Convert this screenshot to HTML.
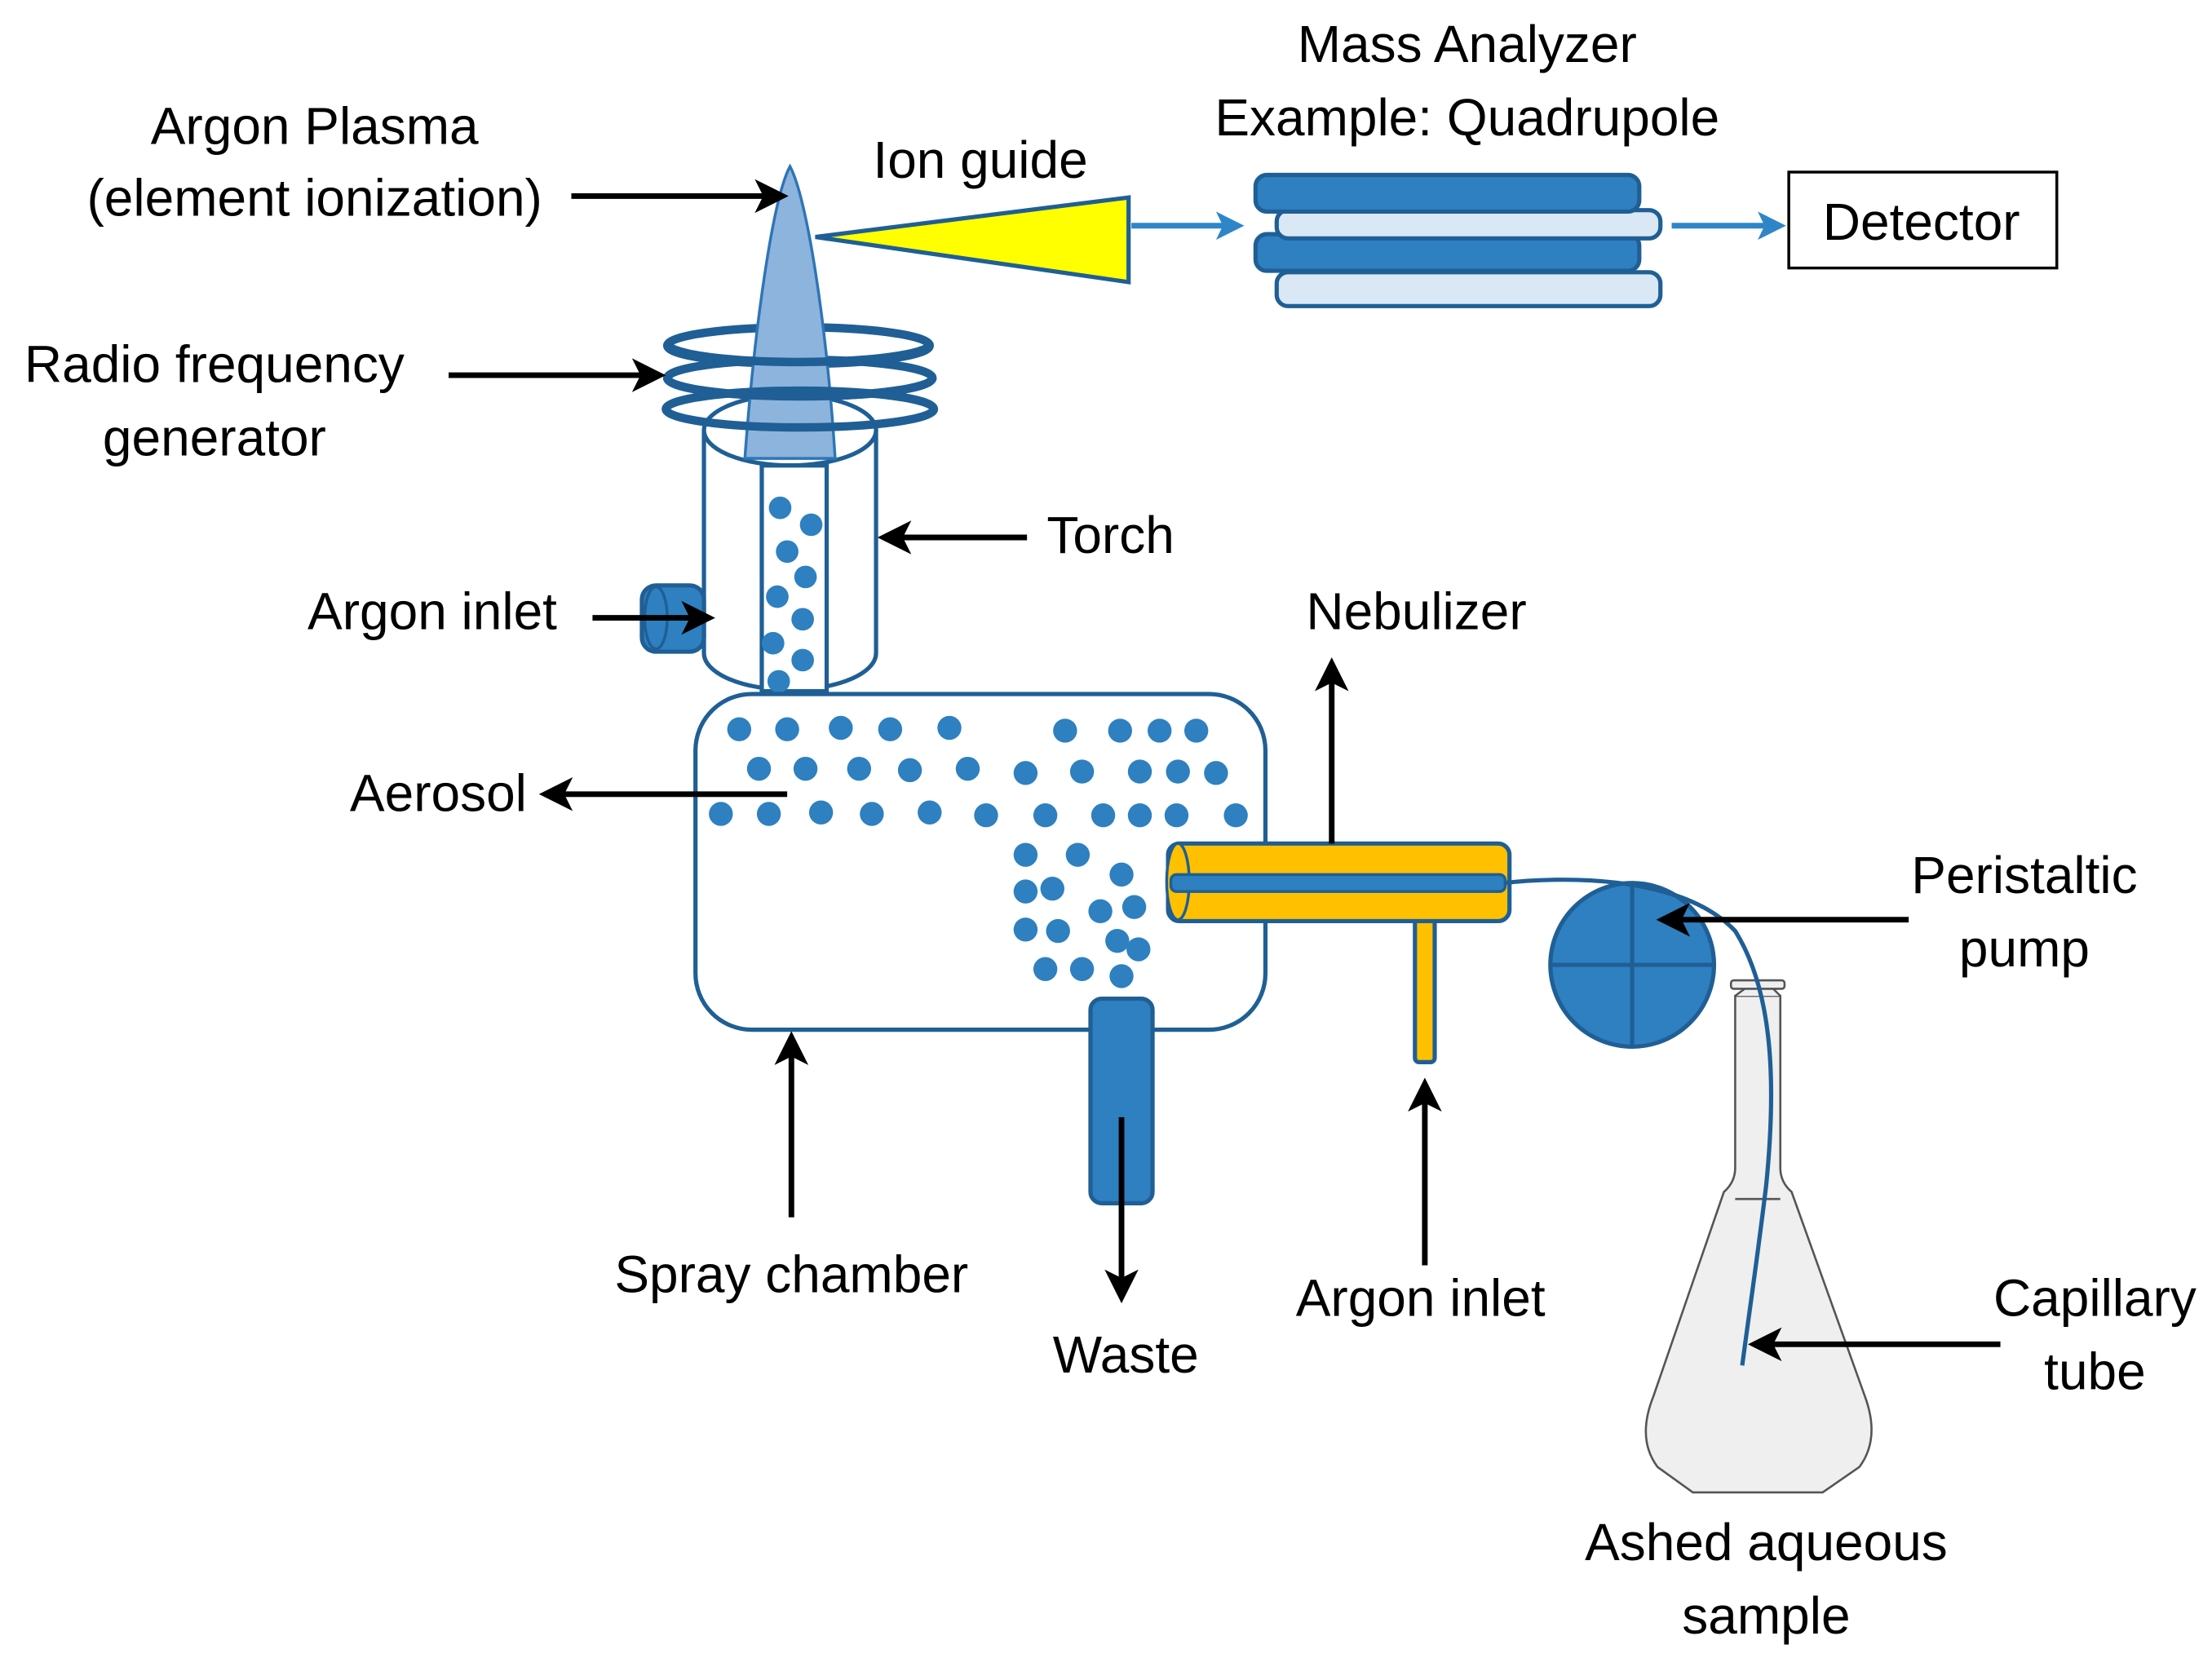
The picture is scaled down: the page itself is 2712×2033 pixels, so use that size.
<!DOCTYPE html>
<html><head><style>html,body{margin:0;padding:0;background:#fff}svg{display:block}</style></head>
<body>
<svg width="2712" height="2033" viewBox="0 0 1568 1175.4" preserveAspectRatio="none" xmlns="http://www.w3.org/2000/svg" font-family="Liberation Sans, sans-serif" font-size="37">
<defs>
<marker id="ah" markerWidth="6" markerHeight="6" refX="5" refY="3" orient="auto" markerUnits="strokeWidth"><path d="M0,0 L6,3 L0,6 L1.5,3z" fill="#000"/></marker>
<marker id="bh" markerWidth="5" markerHeight="5" refX="4" refY="2.5" orient="auto" markerUnits="strokeWidth"><path d="M0,0 L5,2.5 L0,5 L1.2,2.5z" fill="#2e86c9"/></marker>
</defs>
<rect x="1268" y="122" width="190" height="68" fill="#fff" stroke="#000" stroke-width="2"/>
<g fill="#000">
<text x="223" y="102" text-anchor="middle">Argon Plasma</text>
<text x="223" y="153" text-anchor="middle">(element ionization)</text>
<text x="695" y="126" text-anchor="middle">Ion guide</text>
<text x="1040" y="44" text-anchor="middle">Mass Analyzer</text>
<text x="1040" y="96" text-anchor="middle">Example: Quadrupole</text>
<text x="152" y="271" text-anchor="middle">Radio frequency</text>
<text x="152" y="323" text-anchor="middle">generator</text>
<text x="742" y="392">Torch</text>
<text x="218" y="446">Argon inlet</text>
<text x="1004" y="446" text-anchor="middle">Nebulizer</text>
<text x="248" y="575">Aerosol</text>
<text x="1435" y="633" text-anchor="middle">Peristaltic</text>
<text x="1435" y="685" text-anchor="middle">pump</text>
<text x="561" y="916" text-anchor="middle">Spray chamber</text>
<text x="798" y="973" text-anchor="middle">Waste</text>
<text x="1007" y="933" text-anchor="middle">Argon inlet</text>
<text x="1485" y="933" text-anchor="middle">Capillary</text>
<text x="1485" y="985" text-anchor="middle">tube</text>
<text x="1252" y="1106" text-anchor="middle">Ashed aqueous</text>
<text x="1252" y="1158" text-anchor="middle">sample</text>
<text x="1362" y="170" text-anchor="middle">Detector</text>
</g>
<!-- quadrupole -->
<g stroke="#1f5f95" stroke-width="3">
<rect x="905" y="193" width="272" height="24" rx="8" fill="#dae7f4"/>
<rect x="890" y="166" width="272" height="26" rx="8" fill="#2e80c0"/>
<rect x="905" y="149" width="272" height="20" rx="8" fill="#dae7f4"/>
<rect x="890" y="124" width="272" height="26" rx="8" fill="#2e80c0"/>
</g>
<line x1="802" y1="160" x2="878" y2="160" stroke="#2e86c9" stroke-width="4" marker-end="url(#bh)"/>
<line x1="1185" y1="160" x2="1262" y2="160" stroke="#2e86c9" stroke-width="4" marker-end="url(#bh)"/>
<polygon points="578,168 800,140 800,200" fill="#ffff00" stroke="#1f5f95" stroke-width="3"/>
<!-- torch -->
<path d="M499,305 L499,463 A61,26 0 0 0 621,463 L621,305" fill="#fff" stroke="#1f5f95" stroke-width="3"/>
<ellipse cx="560" cy="305" rx="61" ry="25" fill="#fff" stroke="#1f5f95" stroke-width="3"/>
<rect x="540" y="330" width="46" height="160" fill="#fff" stroke="#1f5f95" stroke-width="3"/>
<g fill="#2e80c0">
<circle cx="553" cy="360" r="8"/><circle cx="575" cy="372" r="8"/><circle cx="558" cy="391" r="8"/><circle cx="571" cy="409" r="8"/><circle cx="551" cy="423" r="8"/><circle cx="569" cy="439" r="8"/><circle cx="548" cy="456" r="8"/><circle cx="569" cy="468" r="8"/><circle cx="552" cy="483" r="8"/>
</g>
<rect x="455" y="415" width="44" height="47" rx="10" fill="#2e80c0" stroke="#1f5f95" stroke-width="3"/>
<ellipse cx="465" cy="438" rx="8" ry="22" fill="#2e80c0" stroke="#1f5f95" stroke-width="2"/>
<!-- coils & flame -->
<g fill="none" stroke="#1f5f95" stroke-width="6">
<ellipse cx="566" cy="245" rx="93" ry="13"/>
<ellipse cx="567" cy="268" rx="94" ry="13"/>
</g>
<path d="M528,325 C535,230 548,140 560,118 C572,140 586,230 592,325 Z" fill="#8db4dd" stroke="#2e75b6" stroke-width="2"/>
<g fill="none" stroke="#1f5f95" stroke-width="6">
<path d="M474,245 A93,13 0 0 0 659,245"/>
<path d="M473,268 A94,13 0 0 0 661,268"/>
<ellipse cx="567" cy="290" rx="95" ry="13"/>
</g>
<!-- spray chamber -->
<rect x="493" y="492" width="404" height="238" rx="40" fill="#fff" stroke="#1f5f95" stroke-width="3"/>
<g fill="#2e80c0">
<circle cx="524" cy="517" r="8.5"/><circle cx="558" cy="517" r="8.5"/><circle cx="596" cy="516" r="8.5"/><circle cx="631" cy="517" r="8.5"/><circle cx="673" cy="516" r="8.5"/><circle cx="755" cy="518" r="8.5"/><circle cx="794" cy="518" r="8.5"/><circle cx="822" cy="518" r="8.5"/><circle cx="848" cy="518" r="8.5"/>
<circle cx="538" cy="545" r="8.5"/><circle cx="571" cy="545" r="8.5"/><circle cx="609" cy="545" r="8.5"/><circle cx="645" cy="546" r="8.5"/><circle cx="686" cy="545" r="8.5"/><circle cx="727" cy="548" r="8.5"/><circle cx="767" cy="547" r="8.5"/><circle cx="808" cy="547" r="8.5"/><circle cx="835" cy="547" r="8.5"/><circle cx="862" cy="548" r="8.5"/>
<circle cx="511" cy="577" r="8.5"/><circle cx="545" cy="577" r="8.5"/><circle cx="582" cy="576" r="8.5"/><circle cx="618" cy="577" r="8.5"/><circle cx="659" cy="576" r="8.5"/><circle cx="699" cy="578" r="8.5"/><circle cx="741" cy="578" r="8.5"/><circle cx="782" cy="578" r="8.5"/><circle cx="808" cy="578" r="8.5"/><circle cx="834" cy="578" r="8.5"/><circle cx="876" cy="578" r="8.5"/>
<circle cx="727" cy="606" r="8.5"/><circle cx="764" cy="606" r="8.5"/><circle cx="795" cy="620" r="8.5"/><circle cx="727" cy="632" r="8.5"/><circle cx="746" cy="630" r="8.5"/><circle cx="780" cy="646" r="8.5"/><circle cx="804" cy="643" r="8.5"/><circle cx="727" cy="659" r="8.5"/><circle cx="750" cy="660" r="8.5"/><circle cx="792" cy="667" r="8.5"/><circle cx="807" cy="673" r="8.5"/><circle cx="741" cy="687" r="8.5"/><circle cx="767" cy="687" r="8.5"/><circle cx="795" cy="692" r="8.5"/>
</g>
<rect x="773" y="708" width="44" height="145" rx="8" fill="#2e80c0" stroke="#1f5f95" stroke-width="3"/>
<!-- nebulizer -->
<rect x="1003" y="645" width="14" height="108" rx="3" fill="#ffc000" stroke="#1f5f95" stroke-width="3"/>
<rect x="828" y="598" width="242" height="55" rx="8" fill="#ffc000" stroke="#1f5f95" stroke-width="3"/>
<ellipse cx="835" cy="625" rx="8" ry="27" fill="#ffc000" stroke="#1f5f95" stroke-width="2"/>
<rect x="830" y="620" width="237" height="12" rx="4" fill="#2e80c0" stroke="#1f5f95" stroke-width="2"/>
<!-- flask -->
<path d="M1230,706 L1230,828 Q1230,838 1222,845 L1172,990 Q1160,1020 1175,1040 L1200,1058 L1292,1058 L1318,1040 Q1333,1020 1322,990 L1270,845 Q1262,838 1262,828 L1262,706 Z" fill="#efefef" stroke="#555" stroke-width="1.5"/>
<line x1="1230" y1="850" x2="1262" y2="850" stroke="#555" stroke-width="1.5"/>
<path d="M1230,706 L1238,700 L1256,700 L1262,706" fill="#efefef" stroke="#555" stroke-width="1.5"/>
<rect x="1227" y="695" width="38" height="6" rx="2" fill="#efefef" stroke="#555" stroke-width="1.5"/>
<!-- pump -->
<circle cx="1157" cy="684" r="58" fill="#2e80c0" stroke="#1f5f95" stroke-width="3"/>
<line x1="1157" y1="626" x2="1157" y2="742" stroke="#1f5f95" stroke-width="3"/>
<line x1="1099" y1="684" x2="1215" y2="684" stroke="#1f5f95" stroke-width="3"/>
<path d="M1066,626 C1100,622 1190,618 1230,660 C1255,700 1260,760 1252,840 C1246,890 1240,930 1235,968" fill="none" stroke="#1f5f95" stroke-width="3"/>
<!-- black arrows -->
<g stroke="#000" stroke-width="4" fill="none" marker-end="url(#ah)">
<line x1="405" y1="139" x2="555" y2="139"/>
<line x1="318" y1="266" x2="468" y2="266"/>
<line x1="728" y1="381" x2="626" y2="381"/>
<line x1="420" y1="438" x2="503" y2="438"/>
<line x1="558" y1="563" x2="386" y2="563"/>
<line x1="944" y1="598" x2="944" y2="470"/>
<line x1="1353" y1="652" x2="1178" y2="652"/>
<line x1="561" y1="863" x2="561" y2="735"/>
<line x1="795" y1="792" x2="795" y2="920"/>
<line x1="1010" y1="897" x2="1010" y2="768"/>
<line x1="1418" y1="953" x2="1243" y2="953"/>
</g>
</svg>
</body></html>
